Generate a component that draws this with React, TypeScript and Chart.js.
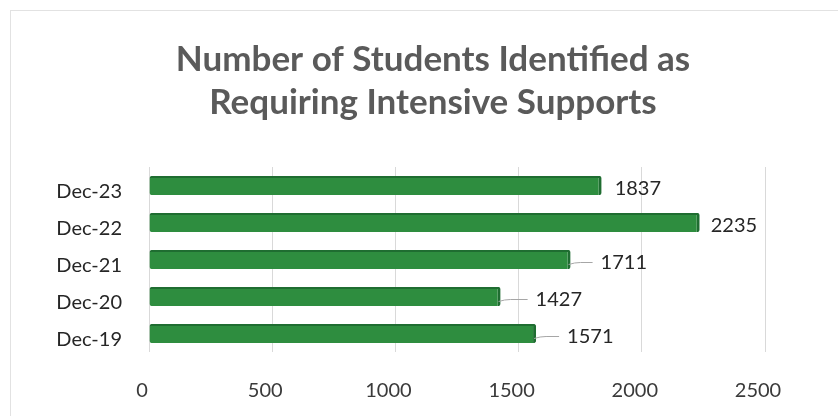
import React, { useEffect, useRef } from "react";
import { Chart, registerables } from "chart.js";

Chart.register(...registerables);

const titleLines = ["Number of Students Identified as", "Requiring Intensive Supports"];
const categories = ["Dec-23", "Dec-22", "Dec-21", "Dec-20", "Dec-19"];
const values = [1837, 2235, 1711, 1427, 1571];
const xTicks = [0, 500, 1000, 1500, 2000, 2500];

// label styling (gap from bar end in px); larger gaps get a leader line
const labelGaps = [13, 11, 30, 35, 31];

const FONT = "Lato, 'Open Sans', sans-serif";

const titlePlugin = {
  id: "centeredTitle",
  afterDraw(chart: any) {
    const ctx = chart.ctx;
    ctx.save();
    ctx.font = `bold 35px ${FONT}`;
    ctx.textAlign = "center";
    ctx.textBaseline = "middle";
    ctx.fillStyle = "#5a5a5a";
    titleLines.forEach((line, i) => {
      ctx.fillText(line, 433, 60 + i * 43);
    });
    ctx.restore();
  },
};

const valueLabelPlugin = {
  id: "valueLabels",
  afterDatasetsDraw(chart: any) {
    const ctx = chart.ctx;
    const meta = chart.getDatasetMeta(0);
    ctx.save();
    ctx.font = `20px ${FONT}`;
    ctx.textBaseline = "middle";
    ctx.textAlign = "left";
    meta.data.forEach((el: any, i: number) => {
      const gap = labelGaps[i] ?? 12;
      const y = el.y + 3;
      if (gap > 20) {
        ctx.strokeStyle = "#a6a6a6";
        ctx.lineWidth = 1;
        ctx.beginPath();
        ctx.moveTo(el.x - 2, y + 2);
        ctx.quadraticCurveTo(el.x + 4, y, el.x + 10, y);
        ctx.lineTo(el.x + gap - 8, y);
        ctx.stroke();
      }
      ctx.fillStyle = "#262626";
      ctx.fillText(String(values[i]), el.x + gap, y);
    });
    ctx.restore();
  },
};

export default function App() {
  const ref = useRef<HTMLCanvasElement | null>(null);

  useEffect(() => {
    if (!ref.current) return;
    const chart = new Chart(ref.current, {
      type: "bar",
      data: {
        labels: categories,
        datasets: [
          {
            data: values,
            backgroundColor: "#2e8d3f",
            borderColor: "#1f6d31",
            borderWidth: { top: 2, right: 3, bottom: 0, left: 0 },
            borderSkipped: false,
            borderRadius: 2,
            barPercentage: 0.52,
            categoryPercentage: 1,
          },
        ],
      },
      options: {
        indexAxis: "y",
        responsive: false,
        animation: false,
        layout: { padding: { left: 0, right: 73, top: 167, bottom: 15 } },
        plugins: {
          legend: { display: false },
          tooltip: { enabled: false },
          title: { display: false },
        },
        scales: {
          x: {
            min: xTicks[0],
            max: xTicks[xTicks.length - 1],
            afterBuildTicks: (scale: any) => {
              scale.ticks = xTicks.map((v) => ({ value: v }));
            },
            afterFit: (scale: any) => {
              scale.height = 49;
            },
            grid: { color: "#d9d9d9", drawTicks: false },
            border: { display: false },
            ticks: {
              color: "#3a3a3a",
              font: { family: FONT, size: 20 },
              padding: 27,
              labelOffset: -7,
              callback: (v: any) => String(v),
            },
          },
          y: {
            afterFit: (scale: any) => {
              scale.width = 149;
            },
            grid: { display: false, drawTicks: false },
            border: { display: false },
            ticks: {
              color: "#262626",
              font: { family: FONT, size: 20 },
              padding: 27,
              labelOffset: 6,
            },
          },
        },
      },
      plugins: [valueLabelPlugin, titlePlugin],
    } as any);
    return () => chart.destroy();
  }, []);

  return (
    <div style={{ position: "absolute", left: 0, top: 0, width: 838, height: 416, background: "#fff" }}>
      <div
        style={{
          position: "absolute",
          left: 10,
          top: 10,
          right: 0,
          bottom: 0,
          borderTop: "1px solid #e2e2e2",
          borderLeft: "1px solid #e2e2e2",
        }}
      />
      <canvas ref={ref} width={838} height={416} style={{ position: "absolute", left: 0, top: 0 }} />
    </div>
  );
}
